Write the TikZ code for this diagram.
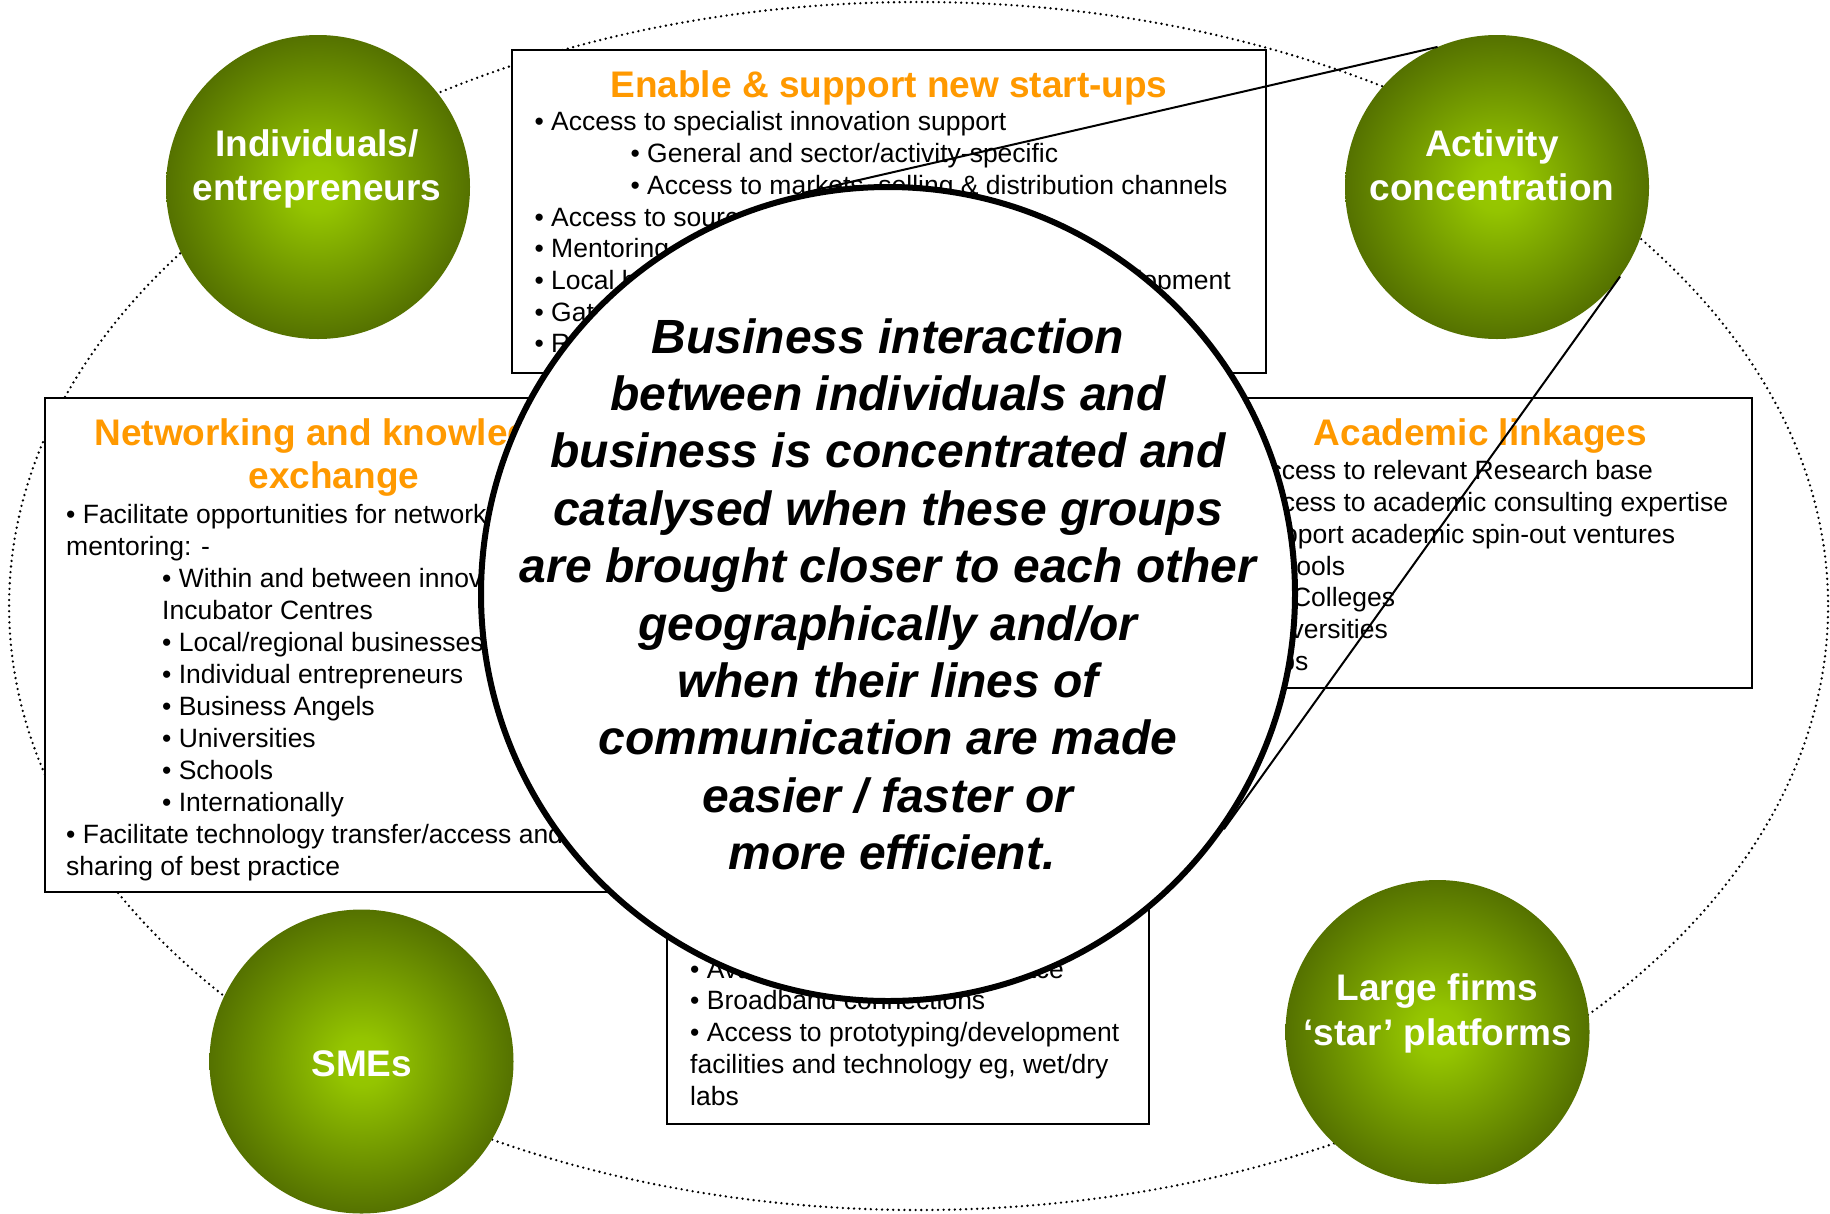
\documentclass[tikz,border=0pt]{standalone}
\usepackage{fontspec}
\setmainfont{Liberation Sans}
\definecolor{orng}{RGB}{255,153,0}
\pgfdeclareradialshading{greenball}{\pgfpoint{0bp}{0bp}}{rgb(0bp)=(0.6,0.79,0); rgb(4bp)=(0.58,0.77,0); rgb(26bp)=(0.32,0.43,0); rgb(35bp)=(0.28,0.38,0); rgb(50bp)=(0.28,0.38,0)}
\pgfdeclarelayer{back}
\pgfsetlayers{back,main}
\newcommand\bodyfont{\fontsize{26.5}{31.7}\selectfont}
\newcommand\ttlfont{\bfseries\fontsize{37}{44}\selectfont}
\newcommand\bigfont{\bfseries\itshape\fontsize{48}{57.4}\selectfont}
\newcommand\mytext[4]{\node[body] (#1) at (#2,#3) {#4};}
\newcommand\bigline[3]{\node[bigtext] (#1) at (888,#2) {#3};}
\tikzset{
  box/.style={draw, line width=2.5pt, fill=white, rectangle, inner sep=0pt, outer sep=0pt, anchor=north west},
  body/.style={font=\bodyfont, inner sep=0pt, anchor=base west, text=black},
  ttl/.style={font=\ttlfont, text=orng, inner sep=0pt, anchor=base},
  ball/.style={circle, minimum size=304pt, inner sep=0pt, shading=greenball},
  balltext/.style={font=\ttlfont, text=white, inner sep=0pt, anchor=base},
  dotline/.style={line width=2.6pt, dash pattern=on 0pt off 5.6pt, line cap=round},
  tangent/.style={line width=2pt},
  bigball/.style={circle, draw, line width=6pt, fill=white, minimum size=814pt, inner sep=0pt},
  bigtext/.style={font=\bigfont, inner sep=0pt, anchor=base}
}
\begin{document}
\begin{tikzpicture}[x=1pt, y=-1pt]
\useasboundingbox (0,0) rectangle (1830,1213);
\begin{pgfonlayer}{back}
% outer dotted ellipse
\draw[dotline] (918.6,606) ellipse [x radius=909.5, y radius=604];
% boxes
\node[box, minimum width=754pt, minimum height=323pt] (topbox) at (512,50) {};
\node[box, minimum width=578pt, minimum height=494pt] (leftbox) at (45,398) {};
\node[box, minimum width=543pt, minimum height=290pt] (rightbox) at (1209,398) {};
\node[box, minimum width=482pt, minimum height=334pt] (botbox) at (667,790) {};
% top box text
\node[ttl] (ttop) at (889,97.3) {Enable \& support new start-ups};
\mytext{a1}{534.4}{130.7}{• Access to specialist innovation support}
\mytext{a2}{630.4}{162.3}{• General and sector/activity-specific}
\mytext{a3}{630.4}{194}{• Access to markets, selling \& distribution channels}
\mytext{a4}{534.4}{226}{• Access to sources of finance}
\mytext{a5}{534.4}{257.7}{• Mentoring}
\mytext{a6}{534.4}{289.3}{• Local business}
\node[body, anchor=base east] (a6b) at (1231,289.3) {development};
\mytext{a7}{534.4}{321.7}{• Gat}
\mytext{a8}{534.4}{352.7}{• R}
% left box text
\node[ttl] (tl1) at (334,445) {Networking and knowledge};
\node[ttl] (tl2) at (334,488.3) {exchange};
\mytext{b1}{66}{523}{• Facilitate opportunities for networking}
\mytext{b2}{66}{555.7}{mentoring: -}
\mytext{b3}{162}{587.3}{• Within and between innovation}
\mytext{b4}{162}{619}{Incubator Centres}
\mytext{b5}{162}{651}{• Local/regional businesses}
\mytext{b6}{162}{683}{• Individual entrepreneurs}
\mytext{b7}{162}{715}{• Business Angels}
\mytext{b8}{162}{747}{• Universities}
\mytext{b9}{162}{779}{• Schools}
\mytext{b10}{162}{811}{• Internationally}
\mytext{b11}{66}{843}{• Facilitate technology transfer/access and}
\mytext{b12}{66}{875}{sharing of best practice}
% right box text
\node[ttl] (tr) at (1480.5,445) {Academic linkages};
\mytext{c1}{1234}{479.3}{• Access to relevant Research base}
\mytext{c2}{1234}{511.7}{• Access to academic consulting expertise}
\mytext{c3}{1234}{543.3}{• Support academic spin-out ventures}
\mytext{c4}{1234}{575}{• Schools}
\mytext{c5}{1234}{606.7}{• FE Colleges}
\mytext{c6}{1234}{638}{• Universities}
\mytext{c7}{1234}{670}{• Labs}
% bottom box text
\mytext{d1}{690}{978}{• Availability of affordable space}
\mytext{d2}{690}{1009.3}{• Broadband connections}
\mytext{d3}{690}{1041.7}{• Access to prototyping/development}
\mytext{d4}{690}{1073}{facilities and technology eg, wet/dry}
\mytext{d5}{690}{1105}{labs}
% green balls
\node[ball] (ind) at (318,187) {};
\node[balltext] (ind1) at (317,156.5) {Individuals/};
\node[balltext] (ind2) at (317,200) {entrepreneurs};
\node[ball] (act) at (1497,187) {};
\node[balltext] (act1) at (1492,156) {Activity};
\node[balltext] (act2) at (1492,200.7) {concentration};
\node[ball] (sme) at (361.5,1061.5) {};
\node[balltext] (sme1) at (361.7,1076) {SMEs};
\node[ball] (lrg) at (1437.5,1032) {};
\node[balltext] (lrg1) at (1437.5,1000.7) {Large firms};
\node[balltext] (lrg2) at (1438,1045) {‘star’ platforms};
\end{pgfonlayer}
% central circle
\node[bigball] (cc) at (888,594) {};
\bigline{e1}{353}{Business interaction}
\bigline{e2}{410.4}{between individuals and}
\bigline{e3}{467.8}{business is concentrated and}
\bigline{e4}{525.2}{catalysed when these groups}
\bigline{e5}{582.6}{are brought closer to each other}
\bigline{e6}{640}{geographically and/or}
\bigline{e7}{697.4}{when their lines of}
\bigline{e8}{754.8}{communication are made}
\bigline{e9}{812.2}{easier / faster or}
\node[bigtext] (e10) at (892,869.6) {more efficient.};
\begin{pgfonlayer}{back}
\draw[tangent] (act.113.9) -- (cc.102.9);
\draw[tangent] (act.-36.9) -- (cc.-35.7);
\end{pgfonlayer}
\end{tikzpicture}
\end{document}
